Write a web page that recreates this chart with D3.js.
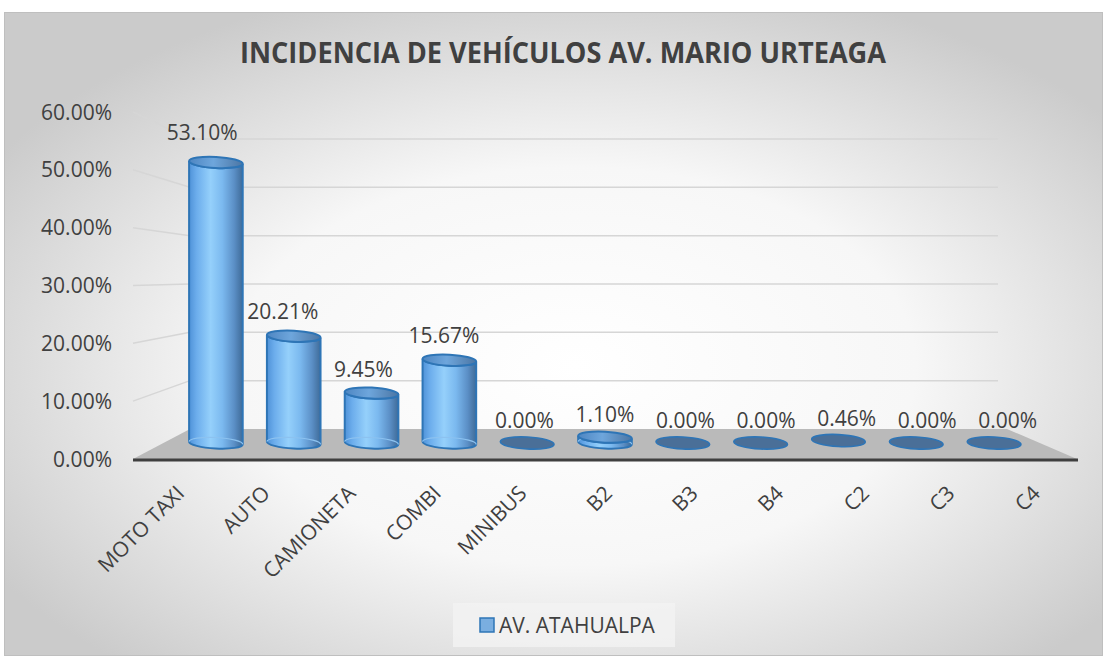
<!DOCTYPE html>
<html>
<head>
<meta charset="utf-8">
<script src="https://cdn.jsdelivr.net/npm/d3@7"></script>
<style>
  html, body { margin: 0; padding: 0; background: #fff; }
  svg { display: block; font-family: "Open Sans", "Noto Sans", sans-serif; }
</style>
</head>
<body>
<svg id="chart" width="1107" height="657"></svg>
<script>
const title = 'INCIDENCIA DE VEHÍCULOS AV. MARIO URTEAGA';
const categories = ['MOTO TAXI', 'AUTO', 'CAMIONETA', 'COMBI', 'MINIBUS', 'B2', 'B3', 'B4', 'C2', 'C3', 'C4'];
const values = [53.10, 20.21, 9.45, 15.67, 0.00, 1.10, 0.00, 0.00, 0.46, 0.00, 0.00];
const yTicks = [0, 10, 20, 30, 40, 50, 60];
const seriesName = 'AV. ATAHUALPA';

const svg = d3.select('#chart');
const defs = svg.append('defs');
const pct = d3.format('.2%');

// background gradient (white centre, gray border)
const bg = defs.append('radialGradient').attr('id', 'bg')
    .attr('cx', '0.52').attr('cy', '0.55').attr('r', '0.62');
bg.append('stop').attr('offset', '0%').attr('stop-color', '#ffffff');
bg.append('stop').attr('offset', '50%').attr('stop-color', '#f7f7f7');
bg.append('stop').attr('offset', '100%').attr('stop-color', '#cbcbcb');

// cylinder body shading
const body = defs.append('linearGradient').attr('id', 'cyl').attr('x1', 0).attr('x2', 1).attr('y1', 0).attr('y2', 0);
[['0%', '#4f92d8'], ['14%', '#6cadec'], ['40%', '#95d0fb'], ['62%', '#7bb9ef'], ['84%', '#5b8fc6'], ['100%', '#3f6b98']]
    .forEach(([o, c]) => body.append('stop').attr('offset', o).attr('stop-color', c));
const cap = defs.append('linearGradient').attr('id', 'cap').attr('x1', 0).attr('x2', 1).attr('y1', 0).attr('y2', 0);
[['0%', '#4e86c2'], ['45%', '#6ea6dc'], ['100%', '#4c76a4']]
    .forEach(([o, c]) => cap.append('stop').attr('offset', o).attr('stop-color', c));

svg.append('rect').attr('x', 4.5).attr('y', 12.5).attr('width', 1098).attr('height', 643)
    .attr('fill', 'url(#bg)').attr('stroke', '#bfbfbf').attr('stroke-width', 1);

svg.append('text').attr('x', 563).attr('y', 63).attr('text-anchor', 'middle')
    .attr('font-size', 28).attr('font-weight', 'bold').attr('fill', '#404040')
    .attr('textLength', 646).attr('lengthAdjust', 'spacingAndGlyphs')
    .text(title);

// 3D frame: front plane, back wall, bars at mid depth
const xF = [133, 1077], xB = [190, 1007];
const yFront = d3.scaleLinear().domain([0, 60]).range([459, 112]);
const yBack = d3.scaleLinear().domain([0, 60]).range([429, 139]);
const yBar = d3.scaleLinear().domain([0, 60]).range([443, 126]);
const x = d3.scaleBand().domain(categories).range([177, 1033]);
const vpX = 606;

// gridlines on side wall and back wall
const grid = svg.append('g').attr('stroke', '#d6d6d6').attr('stroke-width', 1.5).attr('fill', 'none');
yTicks.slice(1).forEach(v => {
    grid.append('line').attr('x1', xF[0]).attr('y1', yFront(v)).attr('x2', xB[0]).attr('y2', yBack(v));
    grid.append('line').attr('x1', xB[0]).attr('y1', yBack(v)).attr('x2', xB[1] - 9).attr('y2', yBack(v));
});

// y tick labels
svg.append('g').selectAll('text').data(yTicks).join('text')
    .attr('x', 112).attr('y', d => yFront(d)).attr('dy', '0.36em')
    .attr('text-anchor', 'end').attr('font-size', 21).attr('fill', '#404040')
    .text(d => pct(d / 100));

// floor
svg.append('path')
    .attr('d', `M${xF[0]},${yFront(0)} L${xF[1]},${yFront(0)} L${xB[1]},${yBack(0)} L${xB[0]},${yBack(0)} Z`)
    .attr('fill', '#bababa');
svg.append('line').attr('x1', xF[0]).attr('x2', xF[1] + 1).attr('y1', yFront(0) + 1).attr('y2', yFront(0) + 1)
    .attr('stroke', '#3f3f3f').attr('stroke-width', 3);

// cylinders
const tilt = 3 * Math.PI / 180;
const rx = x.bandwidth() * 0.345, ry = 5.5;
const bars = svg.append('g');
categories.forEach((c, i) => {
    const v = values[i];
    const cx = x(c) + x.bandwidth() / 2;
    const yb = yBar(0), yt = yBar(v);
    const dx = rx * Math.cos(tilt), dy = rx * Math.sin(tilt);
    const deg = tilt * 180 / Math.PI;
    const g = bars.append('g');
    if (yb - yt > 3) {
        g.append('path')
            .attr('d', `M${cx - dx},${yt - dy} L${cx - dx},${yb - dy} ` +
                `A${rx},${ry} ${deg} 0 0 ${cx + dx},${yb + dy} L${cx + dx},${yt + dy} ` +
                `A${rx},${ry} ${deg} 0 1 ${cx - dx},${yt - dy} Z`)
            .attr('fill', 'url(#cyl)').attr('stroke', '#2e75b6').attr('stroke-width', 2);
        // faint back rim of the base seen through the body
        g.append('path')
            .attr('d', `M${cx - dx},${yb - dy} A${rx},${ry} ${deg} 0 1 ${cx + dx},${yb + dy}`)
            .attr('fill', 'none').attr('stroke', '#8cc2f0').attr('stroke-width', 1.2);
        g.append('ellipse').attr('cx', cx).attr('cy', yt).attr('rx', rx).attr('ry', ry)
            .attr('transform', `rotate(${deg},${cx},${yt})`)
            .attr('fill', 'url(#cap)').attr('stroke', '#2e75b6').attr('stroke-width', 2);
    } else {
        g.append('ellipse').attr('cx', cx).attr('cy', yt).attr('rx', rx).attr('ry', ry + 0.5)
            .attr('transform', `rotate(${deg},${cx},${yt})`)
            .attr('fill', '#4a6f98').attr('stroke', '#2e75b6').attr('stroke-width', 1.6);
    }
    // data label, projected toward the front plane
    svg.append('text')
        .attr('x', cx + (cx - vpX) * 0.035)
        .attr('y', yt - 15 - (yb - yt) * 0.025)
        .attr('text-anchor', 'middle').attr('font-size', 21).attr('fill', '#404040')
        .text(pct(v / 100));
    // category label, rotated
    const lx = vpX + (cx - vpX) * 1.1;
    svg.append('text')
        .attr('transform', `translate(${lx - 2},${484}) rotate(-45)`)
        .attr('text-anchor', 'end').attr('dy', '0.72em')
        .attr('font-size', 21).attr('fill', '#404040')
        .text(c);
});

// legend
const lg = svg.append('g');
lg.append('rect').attr('x', 453).attr('y', 603).attr('width', 222).attr('height', 44).attr('fill', '#f2f2f2').attr('opacity', 0.85);
lg.append('rect').attr('x', 480).attr('y', 618).attr('width', 14).attr('height', 14)
    .attr('fill', '#7aaee0').attr('stroke', '#2e75b6').attr('stroke-width', 1.5);
lg.append('text').attr('x', 499).attr('y', 633).attr('font-size', 21).attr('fill', '#404040').text(seriesName);
</script>
</body>
</html>
